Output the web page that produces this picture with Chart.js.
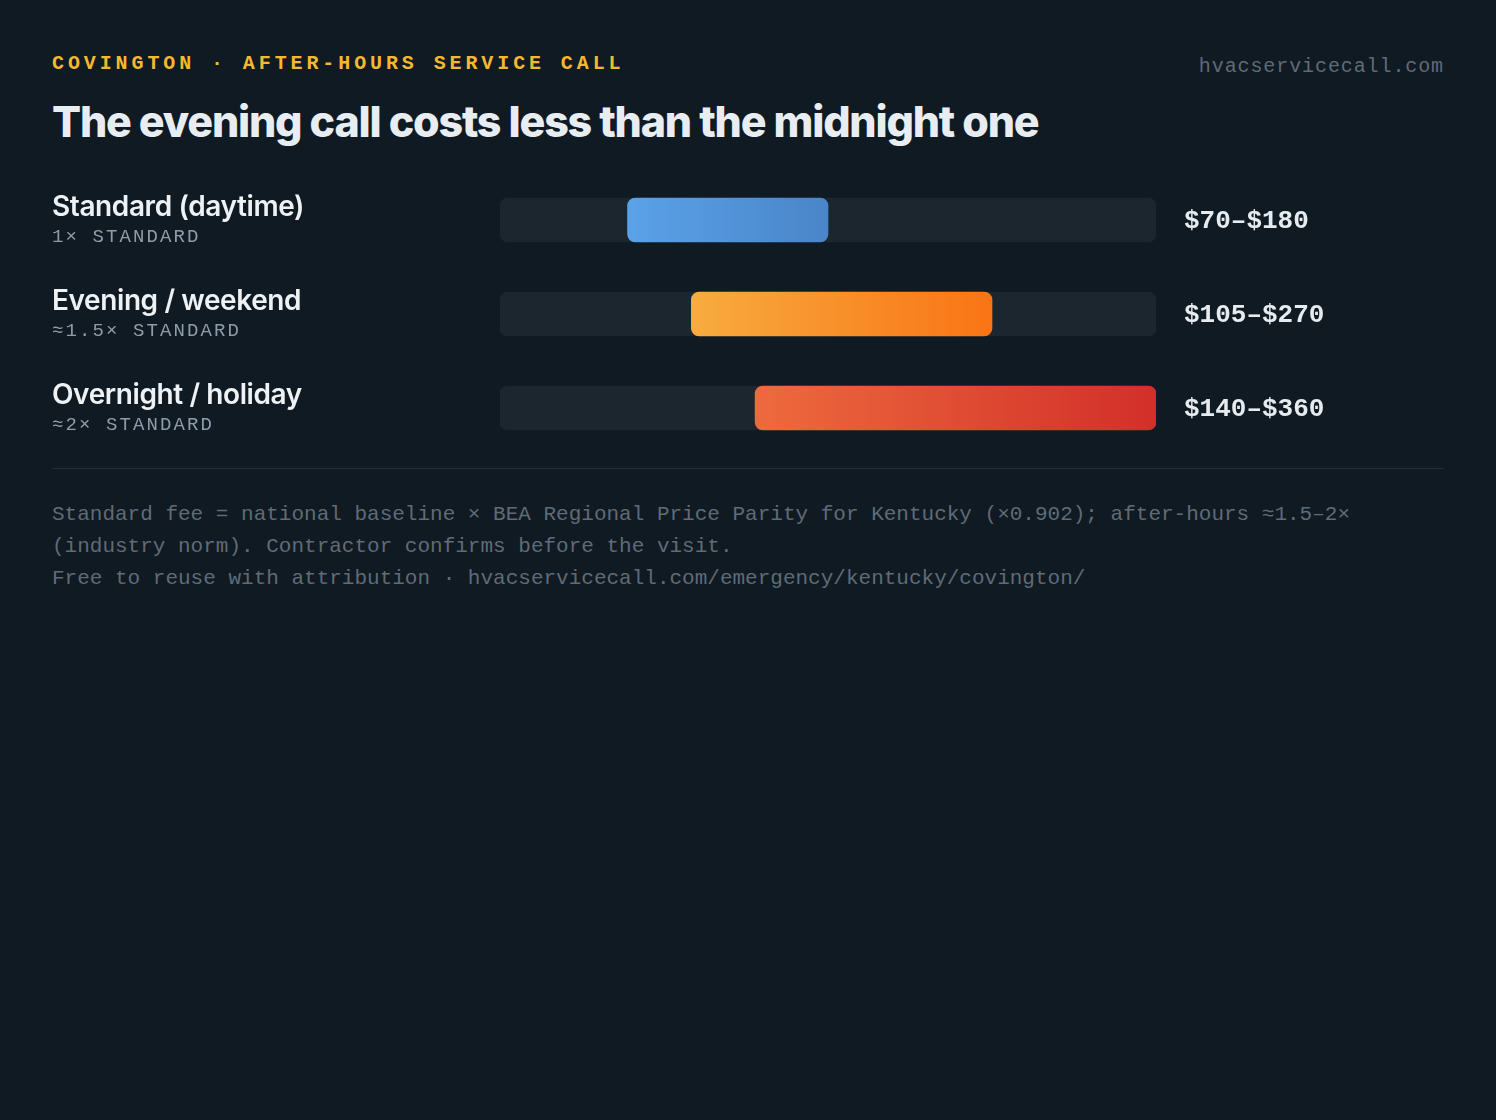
<!DOCTYPE html>
<html>
<head>
<meta charset="utf-8">
<script src="https://cdn.jsdelivr.net/npm/chart.js@4.4.1/dist/chart.umd.min.js"></script>
<style>
  html, body { margin: 0; padding: 0; background: #0f1a23; }
  body { width: 1496px; height: 1120px; position: relative; overflow: hidden; }
  .kicker {
    position: absolute; left: 52px; top: 52px;
    font-family: "Liberation Mono", "DejaVu Sans Mono", monospace;
    font-weight: 700; font-size: 20px; letter-spacing: 3.9px;
    color: #f5b82e;
  }
  .site {
    position: absolute; right: 52px; top: 55px;
    font-family: "Liberation Mono", "DejaVu Sans Mono", monospace;
    font-size: 20px; letter-spacing: 0.9px; color: #5f6b76;
  }
  h1 {
    position: absolute; left: 52px; top: 95px; margin: 0;
    font-family: Inter, sans-serif; font-weight: 800; font-size: 43px;
    letter-spacing: -1.2px; color: #e8edf1;
  }
  .chart-wrap { position: absolute; left: 52px; top: 173px; width: 1392px; height: 282px; }
  .rule { position: absolute; left: 52px; top: 468px; width: 1392px; height: 1px; background: #25303a; }
  .note {
    position: absolute; left: 52px; top: 499px; width: 1340px;
    font-family: "Liberation Mono", "DejaVu Sans Mono", monospace;
    font-size: 21px; line-height: 32px; color: #5f6b76;
  }
</style>
</head>
<body>
<div class="kicker">COVINGTON · AFTER-HOURS SERVICE CALL</div>
<div class="site">hvacservicecall.com</div>
<h1>The evening call costs less than the midnight one</h1>
<div class="chart-wrap"><canvas id="chart"></canvas></div>
<div class="rule"></div>
<div class="note">Standard fee = national baseline × BEA Regional Price Parity for Kentucky (×0.902); after-hours ≈1.5–2× (industry norm). Contractor confirms before the visit.<br>Free to reuse with attribution · hvacservicecall.com/emergency/kentucky/covington/</div>

<script>
// tarifas por faixa de horário
const categories = ["Standard (daytime)", "Evening / weekend", "Overnight / holiday"];
const multipliers = ["1× STANDARD", "≈1.5× STANDARD", "≈2× STANDARD"];
const lowFee = [70, 105, 140];
const highFee = [180, 270, 360];
const valueLabels = ["$70–$180", "$105–$270", "$140–$360"];
const scaleMax = 360;

const gradStops = [
  ["#5aa2e9", "#4a85c8"],
  ["#f8ac3f", "#f97415"],
  ["#ee6a3d", "#d22f29"],
];

const ranges = categories.map((c, i) => [lowFee[i], highFee[i]]);
const tracks = categories.map(() => [0, scaleMax]);

function barFill(ctx) {
  const chart = ctx.chart;
  const xs = chart.scales.x;
  const i = ctx.dataIndex;
  if (!xs || i === undefined) return gradStops[0][0];
  const x0 = xs.getPixelForValue(lowFee[i]);
  const x1 = xs.getPixelForValue(highFee[i]);
  if (!isFinite(x0) || !isFinite(x1)) return gradStops[i][0]; // escala ainda não pronta
  const g = chart.ctx.createLinearGradient(x0, 0, x1, 0);
  g.addColorStop(0, gradStops[i][0]);
  g.addColorStop(1, gradStops[i][1]);
  return g;
}

// textos das linhas desenhados a partir da escala y
const rowText = {
  id: "rowText",
  afterDatasetsDraw(chart) {
    const { ctx, scales } = chart;
    ctx.save();
    categories.forEach((name, i) => {
      const y = scales.y.getPixelForValue(i);
      ctx.textBaseline = "alphabetic";
      ctx.textAlign = "left";
      ctx.fillStyle = "#eef2f5";
      ctx.font = "600 28px Inter, sans-serif";
      ctx.letterSpacing = "-0.4px";
      ctx.fillText(name, 0, y - 4);
      ctx.fillStyle = "#8e9caa";
      ctx.font = "19px 'Liberation Mono', monospace";
      ctx.letterSpacing = "2.1px";
      ctx.fillText(multipliers[i], 0, y + 22);
      ctx.fillStyle = "#e6ebef";
      ctx.font = "bold 26px 'Liberation Mono', monospace";
      ctx.letterSpacing = "0px";
      ctx.textBaseline = "middle";
      ctx.fillText(valueLabels[i], scales.x.right + 28, y + 1);
    });
    ctx.restore();
  },
};

new Chart(document.getElementById("chart"), {
  type: "bar",
  data: {
    labels: categories,
    datasets: [
      {
        data: ranges,
        backgroundColor: barFill,
        borderRadius: 8,
        borderSkipped: false,
        barThickness: 44,
        grouped: false,
        order: 1,
      },
      {
        data: tracks,
        backgroundColor: "#1b262e",
        borderRadius: 8,
        borderSkipped: false,
        barThickness: 44,
        grouped: false,
        order: 2,
      },
    ],
  },
  options: {
    indexAxis: "y",
    responsive: true,
    maintainAspectRatio: false,
    animation: false,
    layout: { padding: { left: 448, right: 288, top: 0, bottom: 0 } },
    plugins: { legend: { display: false }, tooltip: { enabled: false } },
    scales: {
      x: { display: false, min: 0, max: scaleMax },
      y: { display: false },
    },
  },
  plugins: [rowText],
});
</script>
</body>
</html>
